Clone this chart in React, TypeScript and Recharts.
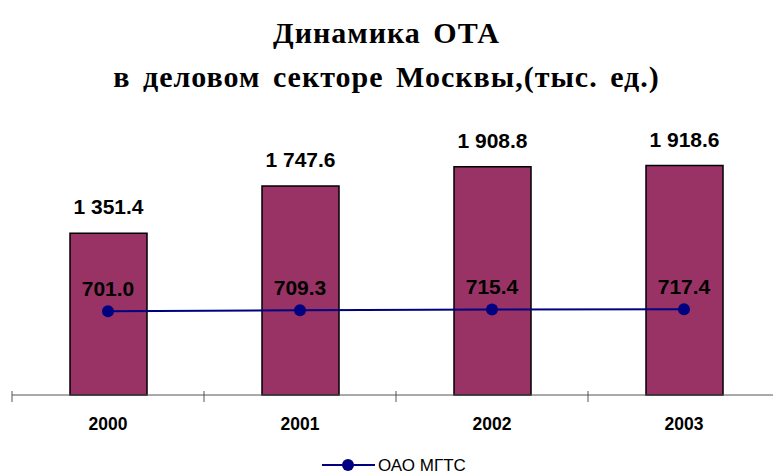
import { ComposedChart, Bar, Line, XAxis, YAxis, LabelList, Legend } from "recharts"

const years = ["2000", "2001", "2002", "2003"]
const otaTotal = [1351.4, 1747.6, 1908.8, 1918.6]
const mgts = [701.0, 709.3, 715.4, 717.4]

const data = years.map((year, i) => ({ year, total: otaTotal[i], mgts: mgts[i] }))

const CHART_W = 780
const MARGIN_L = 12
const PLOT_W = CHART_W - MARGIN_L
const HALF_BAND = PLOT_W / years.length / 2

const fmt = (v: number) => {
  const s = v.toFixed(1)
  const [int, dec] = s.split(".")
  return int.replace(/\B(?=(\d{3})+(?!\d))/g, " ") + "." + dec
}

const AxisTick = (props: any) => {
  const { x, y, payload, index } = props
  const last = index === years.length - 1
  return (
    <g>
      <line x1={x - HALF_BAND} x2={x - HALF_BAND} y1={y - 6} y2={y + 5} stroke="#555" strokeWidth={1} />
      {last && <line x1={x + HALF_BAND} x2={x + HALF_BAND} y1={y - 6} y2={y + 5} stroke="#555" strokeWidth={1} />}
      <text x={x} y={y + 27} textAnchor="middle" dominantBaseline="central" fontFamily="Liberation Sans, Arial" fontWeight="bold" fontSize={17.5} fill="#000">
        {payload.value}
      </text>
    </g>
  )
}

const LegendContent = () => (
  <svg width={180} height={20}>
    <line x1={2} x2={55} y1={10} y2={10} stroke="#000080" strokeWidth={2} />
    <circle cx={28} cy={10} r={6} fill="#000080" />
    <text x={58} y={10} dominantBaseline="central" fontFamily="Liberation Sans, Arial" fontSize={17} fill="#000">
      ОАО МГТС
    </text>
  </svg>
)

export default function App() {
  return (
    <div style={{ position: "absolute", left: 0, top: 0, width: 773, height: 476, overflow: "hidden", background: "#fff" }}>
      <div style={{ position: "absolute", left: 0, top: 11, width: 773, textAlign: "center", fontFamily: "Liberation Serif, Times New Roman", fontWeight: "bold", fontSize: 30, lineHeight: "44px", letterSpacing: 1, wordSpacing: 4, color: "#000" }}>
        Динамика ОТА
        <br />
        в деловом секторе Москвы,(тыс. ед.)
      </div>
      <ComposedChart width={CHART_W} height={476} data={data} margin={{ top: 96, right: 0, bottom: 31, left: MARGIN_L }}>
        <XAxis dataKey="year" tickLine={false} tickSize={0} height={30} stroke="#555" tick={<AxisTick />} interval={0} />
        <YAxis hide domain={[0, 2500]} />
        <Bar dataKey="total" fill="#993366" stroke="#000" strokeWidth={1.5} barSize={77} isAnimationActive={false}>
          <LabelList dataKey="total" position="top" offset={19} formatter={(v: any) => fmt(Number(v))} fill="#000" fontFamily="Liberation Sans, Arial" fontWeight="bold" fontSize={21} />
        </Bar>
        <Line dataKey="mgts" stroke="#000080" strokeWidth={2} dot={{ r: 6, fill: "#000080", stroke: "#000080", strokeWidth: 0 }} isAnimationActive={false}>
          <LabelList dataKey="mgts" position="top" offset={15.5} formatter={(v: any) => fmt(Number(v))} fill="#000" fontFamily="Liberation Sans, Arial" fontWeight="bold" fontSize={21} />
        </Line>
        <Legend content={<LegendContent />} wrapperStyle={{ position: "absolute", left: 320, top: 455, width: 180, height: 20 }} />
      </ComposedChart>
    </div>
  )
}
